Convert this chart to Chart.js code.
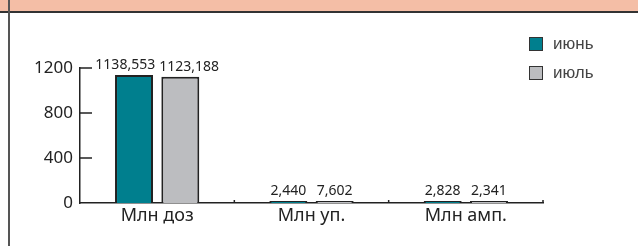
<!DOCTYPE html>
<html>
<head>
<meta charset="utf-8">
<script src="https://cdn.jsdelivr.net/npm/chart.js@4"></script>
<style>
  html, body { margin: 0; padding: 0; background: #fff; }
  #wrap { position: relative; width: 638px; height: 246px; overflow: hidden; }
  #band { position: absolute; left: 0; top: 0; width: 638px; height: 11px; background: #f4bea6; border-bottom: 2px solid #333; }
  #side { position: absolute; left: 8px; top: 0; width: 2px; height: 246px; background: #555; }
  #chart { position: absolute; left: 0; top: 0; }
  #legend { position: absolute; left: 529px; top: 29px; font: 17px "Liberation Sans", Arial, sans-serif; color: #444; }
  #legend .item { display: flex; align-items: center; height: 29px; }
  #legend .box { width: 12px; height: 12px; border: 1.5px solid #333; margin-right: 10px; }
</style>
</head>
<body>
<div id="wrap">
  <div id="band"></div>
  <div id="side"></div>
  <canvas id="chart" width="638" height="246"></canvas>
  <div id="legend"></div>
</div>
<script>
// Data
const categories = ['Млн доз', 'Млн уп.', 'Млн амп.'];
const seriesNames = ['июнь', 'июль'];
const june = [1138.553, 2.440, 2.828];
const july = [1123.188, 7.602, 2.341];
const yTicks = [0, 400, 800, 1200];

const colors = ['#007f8e', '#bcbdc0'];
const FONT = '"Noto Sans", "Open Sans", sans-serif';

// HTML legend
const legendEl = document.getElementById('legend');
seriesNames.forEach((name, i) => {
  const item = document.createElement('div');
  item.className = 'item';
  item.innerHTML = '<span class="box" style="background:' + colors[i] + '"></span><span>' + name + '</span>';
  legendEl.appendChild(item);
});

// inner tick marks on both axes
const tickMarks = {
  id: 'tickMarks',
  afterDraw(chart) {
    const ctx = chart.ctx;
    const { left, right, bottom } = chart.chartArea;
    const x = chart.scales.x;
    const y = chart.scales.y;
    ctx.save();
    ctx.strokeStyle = '#222';
    ctx.lineWidth = 1.5;
    ctx.beginPath();
    yTicks.forEach(v => {
      if (v === 0) return;
      const py = y.getPixelForValue(v);
      ctx.moveTo(left, py);
      ctx.lineTo(left + 12, py);
    });
    for (let i = 0; i < categories.length; i++) {
      const px = i < categories.length - 1
        ? (x.getPixelForValue(i) + x.getPixelForValue(i + 1)) / 2
        : right;
      ctx.moveTo(px, bottom);
      ctx.lineTo(px, bottom - 3);
    }
    ctx.stroke();
    ctx.restore();
  }
};

// value labels above bars
const valueLabels = {
  id: 'valueLabels',
  afterDatasetsDraw(chart) {
    const ctx = chart.ctx;
    ctx.save();
    ctx.font = '14px ' + FONT;
    ctx.fillStyle = '#222';
    ctx.textBaseline = 'alphabetic';
    const m0 = chart.getDatasetMeta(0).data;
    const m1 = chart.getDatasetMeta(1).data;
    for (let i = 0; i < categories.length; i++) {
      const t0 = june[i].toFixed(3).replace('.', ',');
      const t1 = july[i].toFixed(3).replace('.', ',');
      const w0 = ctx.measureText(t0).width;
      const w1 = ctx.measureText(t1).width;
      let x0 = m0[i].x - w0 / 2;
      let x1 = m1[i].x - w1 / 2;
      if (x0 + w0 + 4 > x1) {
        const mid = (m0[i].x + m1[i].x) / 2;
        x0 = mid - 2 - w0;
        x1 = mid + 2;
      }
      ctx.textAlign = 'left';
      ctx.fillText(t0, x0, m0[i].y - 6);
      ctx.fillText(t1, x1, m1[i].y - 6);
    }
    ctx.restore();
  }
};

new Chart(document.getElementById('chart'), {
  type: 'bar',
  plugins: [tickMarks, valueLabels],
  data: {
    labels: categories,
    datasets: [
      {
        label: seriesNames[0],
        data: june,
        backgroundColor: colors[0],
        borderColor: '#222',
        borderWidth: 2,
        minBarLength: 2,
        categoryPercentage: 0.6,
        barPercentage: 0.82
      },
      {
        label: seriesNames[1],
        data: july,
        backgroundColor: colors[1],
        borderColor: '#222',
        borderWidth: 2,
        minBarLength: 2,
        categoryPercentage: 0.6,
        barPercentage: 0.82
      }
    ]
  },
  options: {
    responsive: false,
    animation: false,
    layout: { padding: { top: 68, right: 95, bottom: 0, left: 0 } },
    plugins: {
      legend: { display: false },
      tooltip: { enabled: false }
    },
    scales: {
      x: {
        grid: { display: false, drawTicks: false },
        border: { display: true, color: '#222', width: 1.5 },
        ticks: { color: '#222', font: { family: FONT, size: 18 }, padding: 2 },
        afterFit(scale) { scale.height = 43; }
      },
      y: {
        min: 0,
        max: 1200,
        afterBuildTicks(scale) { scale.ticks = yTicks.map(v => ({ value: v })); },
        grid: { display: false, drawTicks: false },
        border: { display: true, color: '#222', width: 1.5 },
        ticks: {
          color: '#222',
          font: { family: FONT, size: 17 },
          padding: 7,
          callback: (v) => String(v)
        },
        afterFit(scale) { scale.width = 80; }
      }
    }
  }
});
</script>
</body>
</html>
